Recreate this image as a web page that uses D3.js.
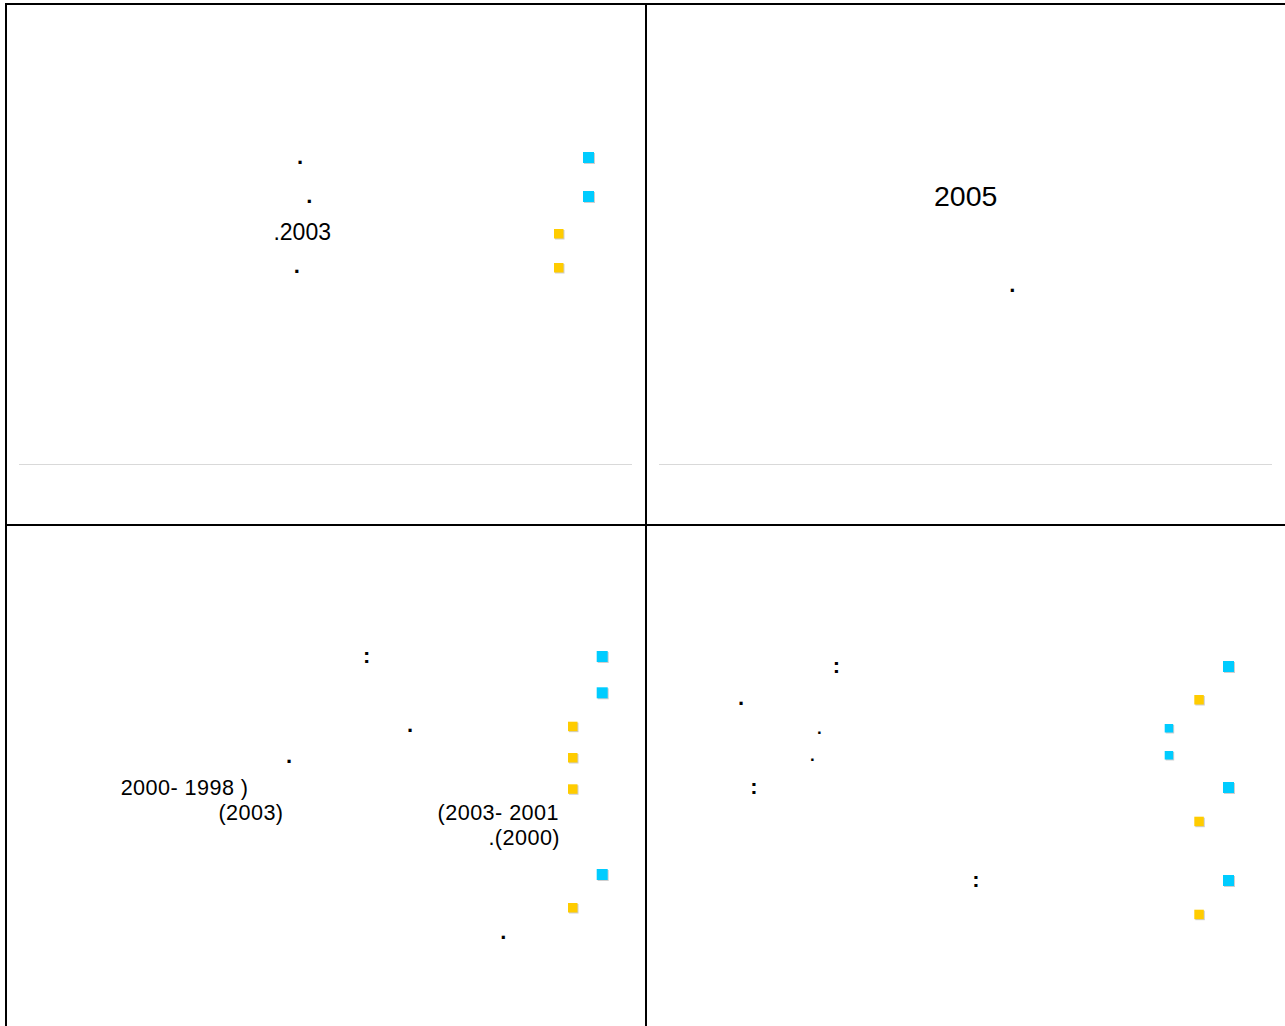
<!DOCTYPE html>
<html>
<head>
<meta charset="utf-8">
<script src="https://cdn.jsdelivr.net/npm/d3@7/dist/d3.min.js"></script>
<style>
  html, body { margin: 0; padding: 0; background: #fff; }
  svg { display: block; }
  text { font-family: "Liberation Sans", Arial, sans-serif; fill: #000; }
</style>
</head>
<body>
<svg id="chart" width="1285" height="1026"></svg>
<script>
// ---- content (the slide's Arabic glyphs are missing; only digits/punctuation survive) ----
const panels      = ["top-left", "top-right", "bottom-left", "bottom-right"];
const panelCol    = [0, 1, 0, 1];
const panelRow    = [0, 0, 1, 1];
const panelRule   = [true, true, false, false];

const fragmentText  = [".", ".", ".2003", ".",
                       "2005", ".",
                       ":", ".", ".", "2000- 1998 )", "(2003)", "(2003- 2001", ".(2000)", ".",
                       ":", ".", ".", ".", ":", ":"];
const fragmentPanel = [0, 0, 0, 0,
                       1, 1,
                       2, 2, 2, 2, 2, 2, 2, 2,
                       3, 3, 3, 3, 3, 3];
const fragmentStyle = ["dot", "dot", "tl", "dot",
                       "title", "dot",
                       "dot", "dot", "dot", "body", "body", "body", "body", "dot",
                       "dot", "dot", "small", "small", "dot", "dot"];

const bulletKind  = ["cyan", "cyan", "yellow", "yellow",
                     "cyan", "cyan", "yellow", "yellow", "yellow", "cyan", "yellow",
                     "cyan", "yellow", "cyanSmall", "cyanSmall", "cyan", "yellow", "cyan", "yellow"];
const bulletPanel = [0, 0, 0, 0,
                     2, 2, 2, 2, 2, 2, 2,
                     3, 3, 3, 3, 3, 3, 3, 3];

// ---- layout (panel-local positions) ----
const fragmentPos = [[294, 160, "middle"], [303.3, 198.5, "middle"], [325, 236, "end"], [290.7, 268.5, "middle"],
                     [319.7, 201.5, "middle"], [366.4, 288, "middle"],
                     [360.7, 138, "middle"], [404, 206.5, "middle"], [283, 238, "middle"], [242.5, 270, "end"],
                     [277.5, 295, "end"], [553, 295, "end"], [554, 320, "end"], [497.3, 414, "middle"],
                     [190.5, 148, "middle"], [95, 180, "middle"], [173.3, 208.5, "middle"], [166.3, 235.5, "middle"],
                     [108, 269, "middle"], [330, 362, "middle"]];
const bulletPos = [[577, 148], [577, 187], [548, 225], [548, 259],
                   [590.7, 126], [590.7, 162.3], [562, 196.7], [562, 228], [562, 259.3], [590.7, 344], [562, 378],
                   [577, 136], [548.3, 170], [518.7, 199], [518.7, 226], [577, 257], [548.3, 291.7], [577, 350], [548.3, 384.7]];

const fontSize   = { body: 21.6, title: 28.5, small: 17, tl: 23, dot: 22 };
const fontWeight = { body: 400, title: 400, small: 700, tl: 400, dot: 700 };
const tracking   = { body: 0.45, title: 0, small: 0, tl: 0, dot: 0 };
const bulletSize = { cyan: 11, yellow: 9.5, cyanSmall: 8.5 };
const color = d3.scaleOrdinal().domain(["cyan", "yellow", "cyanSmall"]).range(["#00CCFF", "#FFCC00", "#00CCFF"]);

// ---- scales ----
const colScale = d3.scaleBand().domain([0, 1]).range([6, 1286]);
const rowScale = d3.scaleBand().domain([0, 1]).range([4, 1046]);
const ox = p => colScale(panelCol[p]);
const oy = p => rowScale(panelRow[p]);

const svg = d3.select("#chart");

// gray rules in the top panels
svg.append("g").selectAll("line")
  .data(d3.range(panels.length).filter(i => panelRule[i]))
  .join("line")
  .attr("x1", p => ox(p) + 13).attr("x2", p => ox(p) + colScale.bandwidth() - 14)
  .attr("y1", p => oy(p) + 460.5).attr("y2", p => oy(p) + 460.5)
  .attr("stroke", "#d9d9d9").attr("stroke-width", 1.2);

// bullets
const bData = bulletKind.map((k, i) => ({ k, p: bulletPanel[i], pos: bulletPos[i] }));
const bg = svg.append("g");
bg.selectAll("rect.shadow").data(bData).join("rect").attr("class", "shadow")
  .attr("x", d => ox(d.p) + d.pos[0] + 1).attr("y", d => oy(d.p) + d.pos[1] + 1)
  .attr("width", d => bulletSize[d.k]).attr("height", d => bulletSize[d.k])
  .attr("fill", "#cfcfcf");
bg.selectAll("rect.mark").data(bData).join("rect").attr("class", "mark")
  .attr("x", d => ox(d.p) + d.pos[0]).attr("y", d => oy(d.p) + d.pos[1])
  .attr("width", d => bulletSize[d.k]).attr("height", d => bulletSize[d.k])
  .attr("fill", d => color(d.k));

// text fragments
const tData = fragmentText.map((t, i) => ({ t, p: fragmentPanel[i], s: fragmentStyle[i], pos: fragmentPos[i] }));
svg.append("g").selectAll("text").data(tData).join("text")
  .attr("x", d => ox(d.p) + d.pos[0])
  .attr("y", d => oy(d.p) + d.pos[1])
  .attr("text-anchor", d => d.pos[2])
  .attr("font-size", d => fontSize[d.s])
  .attr("font-weight", d => fontWeight[d.s])
  .attr("letter-spacing", d => tracking[d.s])
  .text(d => d.t);

// table frame
const fg = svg.append("g").attr("stroke", "#000").attr("stroke-width", 2);
[0, 1, 2].forEach(c => {
  const x = c < 2 ? colScale(c) : colScale(1) + colScale.bandwidth();
  fg.append("line").attr("x1", x).attr("x2", x).attr("y1", 3).attr("y2", 1030);
});
[0, 1].forEach(r => {
  const y = rowScale(r);
  fg.append("line").attr("x1", 5).attr("x2", 1290).attr("y1", y).attr("y2", y);
});
</script>
</body>
</html>
